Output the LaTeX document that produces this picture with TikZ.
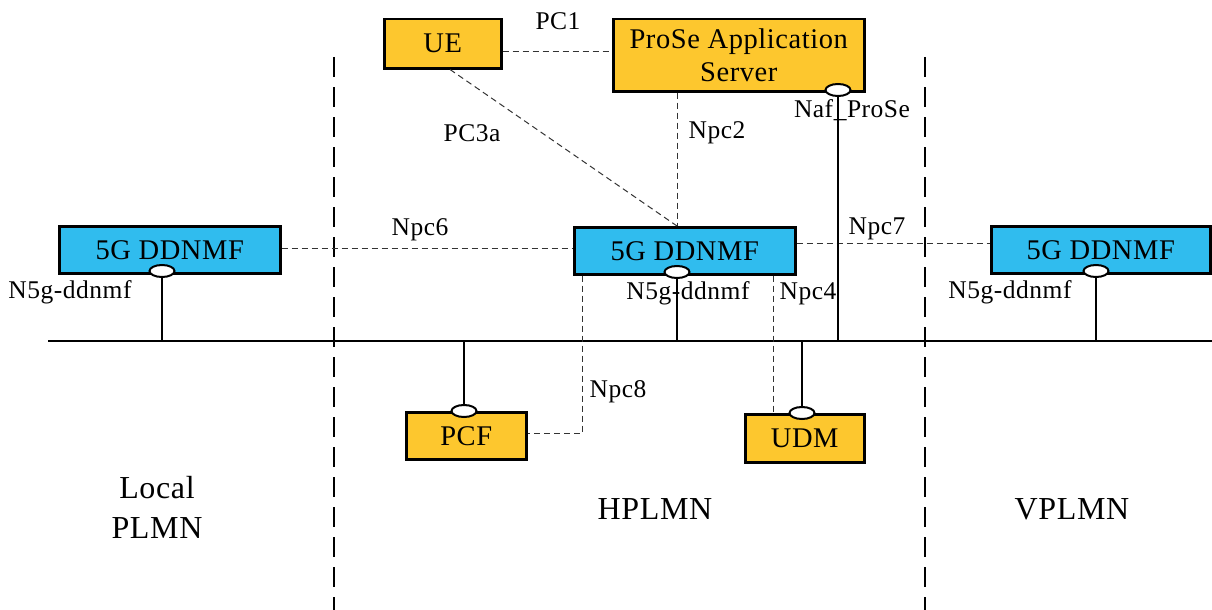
\documentclass[tikz,border=0pt]{standalone}
\usepackage{fontspec}
\setmainfont{Liberation Serif}[LetterSpace=2]
\usetikzlibrary{shapes.geometric}
\definecolor{gold}{HTML}{FDC72E}
\definecolor{sky}{HTML}{30BCEE}
\begin{document}
\begin{tikzpicture}[x=1pt,y=-1pt,
  nfbox/.style={draw=black,line width=2.5pt,inner sep=0pt,anchor=north west},
  goldbox/.style={nfbox,fill=gold},
  bluebox/.style={nfbox,fill=sky},
  boxtxt/.style={font=\fontsize{28.5}{33}\selectfont},
  port/.style={ellipse,draw=black,fill=white,line width=2pt,minimum width=25pt,minimum height=12pt,inner sep=0pt},
  lbl/.style={font=\fontsize{25.5}{28}\selectfont,inner sep=0pt},
  big/.style={font=\fontsize{32}{40}\selectfont,inner sep=0pt,align=center},
  dl/.style={dashed,dash pattern=on 6pt off 4pt,line width=1pt,black!80},
  solidl/.style={line width=2.7pt},
  boundary/.style={line width=2.8pt,dash pattern=on 20pt off 10pt}]
\useasboundingbox (0,0) rectangle (1212,610);

% boundaries
\coordinate (bl1) at (334,57);
\coordinate (bl2) at (334,610);
\coordinate (br1) at (925,57);
\coordinate (br2) at (925,610);
\draw[boundary] (bl1) -- (bl2);
\draw[boundary] (br1) -- (br2);

% bus
\coordinate (busL) at (48,341);
\coordinate (busR) at (1212,341);
\draw[solidl] (busL) -- (busR);

% boxes
\node[goldbox,minimum width=117pt,minimum height=49pt] (ue) at (383,18) {};
\node[boxtxt] at (ue.center) {UE};
\node[goldbox,minimum width=251pt,minimum height=72pt] (pas) at (612,18) {};
\node[boxtxt,align=center] at (pas.center) {ProSe Application\\Server};

\node[bluebox,minimum width=221pt,minimum height=47pt] (dd1) at (58,225) {};
\node[boxtxt] at (dd1.center) {5G DDNMF};
\node[bluebox,minimum width=221pt,minimum height=47pt] (dd2) at (573,226) {};
\node[boxtxt] at (dd2.center) {5G DDNMF};
\node[bluebox,minimum width=219pt,minimum height=47pt] (dd3) at (990,225) {};
\node[boxtxt] at (dd3.center) {5G DDNMF};

\node[goldbox,minimum width=120pt,minimum height=47pt] (pcf) at (405,411) {};
\node[boxtxt] at (pcf.center) {PCF};
\node[goldbox,minimum width=119pt,minimum height=48pt] (udm) at (744,413) {};
\node[boxtxt] at (udm.center) {UDM};

% dashed reference points
\draw[dl] (ue.east |- 0,52) -- (pas.west |- 0,52);
\draw[dl] (ue.south -| 450,0) -- (dd2.north -| 677,0);
\draw[dl] (pas.south -| 677,0) -- (dd2.north -| 677,0);
\draw[dl] (dd1.east |- 0,248) -- (dd2.west |- 0,248);
\draw[dl] (dd2.east |- 0,243) -- (dd3.west |- 0,243);
\draw[dl] (dd2.south -| 773,0) -- (udm.north -| 773,0);
\draw[dl] (dd2.south -| 582,0) -- (582,433) -- (pcf.east |- 0,433);

% service ports
\node[port] (pnaf) at (838,90) {};
\node[port] (pd1) at (162,271) {};
\node[port] (pd2) at (677,272) {};
\node[port] (pd3) at (1096,271) {};
\node[port] (ppcf) at (464,411) {};
\node[port] (pudm) at (802,413) {};

\draw[solidl] (pnaf.south) -- (pnaf |- busL);
\draw[solidl] (pd1.south) -- (pd1 |- busL);
\draw[solidl] (pd2.south) -- (pd2 |- busL);
\draw[solidl] (pd3.south) -- (pd3 |- busL);
\draw[solidl] (ppcf.north) -- (ppcf |- busL);
\draw[solidl] (pudm.north) -- (pudm |- busL);

% labels
\node[lbl] (lpc1) at (558,21) {PC1};
\node[lbl] (lpc3a) at (472,133) {PC3a};
\node[lbl] (lnpc2) at (717,133) {Npc2};
\node[lbl] (lnaf) at (852,110) {Naf\_ProSe};
\node[lbl] (lnpc6) at (420,230) {Npc6};
\node[lbl] (lnpc7) at (877,229) {Npc7};
\node[lbl] (ln5a) at (70,292) {N5g-ddnmf};
\node[lbl] (ln5b) at (688,293) {N5g-ddnmf};
\node[lbl] (ln5c) at (1010,292) {N5g-ddnmf};
\node[lbl] (lnpc4) at (808,294) {Npc4};
\node[lbl] (lnpc8) at (618,392) {Npc8};

\node[big] (local) at (157,507) {Local\\PLMN};
\node[big] (hplmn) at (655,509) {HPLMN};
\node[big] (vplmn) at (1072,509) {VPLMN};
\end{tikzpicture}
\end{document}
